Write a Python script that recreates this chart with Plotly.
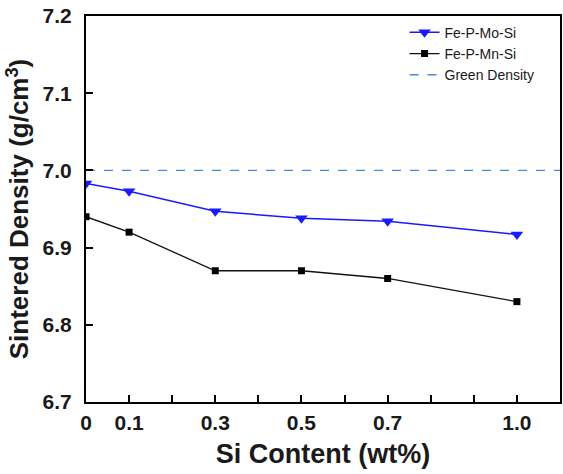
import plotly.graph_objects as go

si = [0, 0.1, 0.3, 0.5, 0.7, 1.0]
mo = [6.983, 6.973, 6.947, 6.938, 6.934, 6.917]
mn = [6.940, 6.920, 6.870, 6.870, 6.860, 6.830]
green_x = [0, 1.1]
green_y = [7.0, 7.0]
xtick_vals = [0, 0.1, 0.2, 0.3, 0.4, 0.5, 0.6, 0.7, 0.8, 0.9, 1.0]
xtick_text = ["0", "0.1", "", "0.3", "", "0.5", "", "0.7", "", "", "1.0"]
ytick_vals = [6.7, 6.8, 6.9, 7.0, 7.1, 7.2]
ytick_text = ["6.7", "6.8", "6.9", "7.0", "7.1", "7.2"]

FONT = "Liberation Sans, Arial, sans-serif"

fig = go.Figure()
fig.add_trace(go.Scatter(x=si, y=mo, name="Fe-P-Mo-Si", mode="lines+markers",
                         line=dict(color="#1a1aff", width=1.5),
                         marker=dict(symbol="triangle-down", size=11, color="#1a1aff")))
fig.add_trace(go.Scatter(x=si, y=mn, name="Fe-P-Mn-Si", mode="lines+markers",
                         line=dict(color="#111111", width=1.3),
                         marker=dict(symbol="square", size=7, color="#000000")))
fig.add_trace(go.Scatter(x=green_x, y=green_y, name="Green Density", mode="lines",
                         line=dict(color="#4a8ad4", width=1.3, dash="dash")))

fig.update_layout(
    width=563, height=474,
    margin=dict(l=86, r=1, t=16, b=72),
    plot_bgcolor="white", paper_bgcolor="white",
    font=dict(family=FONT, color="#1a1a1a"),
    legend=dict(x=0.672, y=0.998, xanchor="left", yanchor="top",
                bgcolor="rgba(0,0,0,0)", font=dict(size=14),
                itemwidth=30, tracegroupgap=0),
    xaxis=dict(range=[0, 1.1], tickvals=xtick_vals,
               ticktext=["<b>%s</b>" % t if t else "" for t in xtick_text],
               ticks="inside", ticklen=7, tickwidth=2, tickcolor="black",
               showline=True, linecolor="black", linewidth=2, mirror=True,
               showgrid=False, zeroline=False, ticklabelstandoff=1,
               tickfont=dict(size=21, family=FONT, color="#1a1a1a"),
               title=dict(text="<b>Si Content (wt%)</b>", font=dict(size=27), standoff=11)),
    yaxis=dict(range=[6.7, 7.2], tickvals=ytick_vals,
               ticktext=["<b>%s</b>" % t for t in ytick_text],
               ticks="inside", ticklen=7, tickwidth=2, tickcolor="black",
               showline=True, linecolor="black", linewidth=2, mirror=True,
               showgrid=False, zeroline=False, ticklabelstandoff=8,
               tickfont=dict(size=21, family=FONT, color="#1a1a1a"),
               title=dict(text="<b>Sintered Density (g/cm<sup>3</sup>)</b>", font=dict(size=26), standoff=6)),
)
fig.write_html("out.html", config={"displayModeBar": False},
               post_script="document.body.style.margin='0';")
